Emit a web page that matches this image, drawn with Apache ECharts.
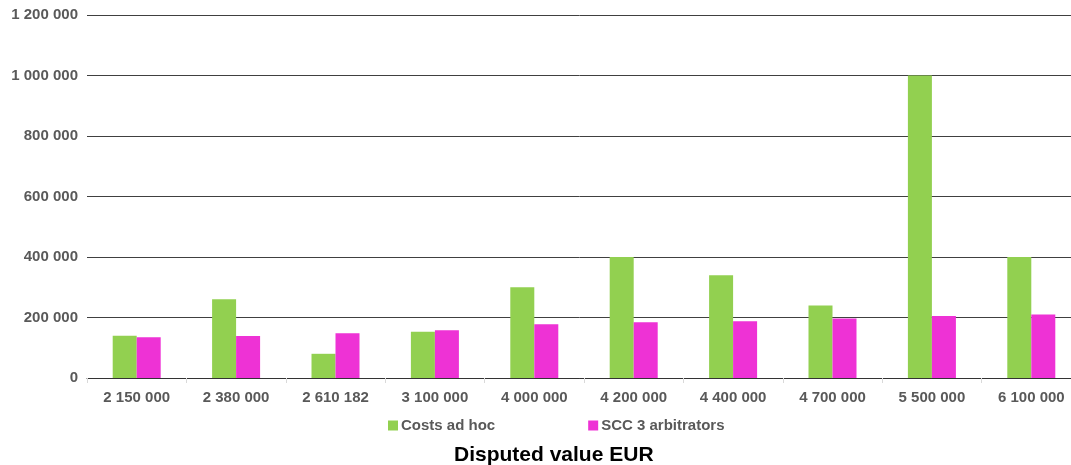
<!DOCTYPE html>
<html>
<head>
<meta charset="utf-8">
<script src="https://cdn.jsdelivr.net/npm/echarts@6/dist/echarts.min.js"></script>
<style>
  html, body { margin: 0; padding: 0; background: #fff; }
  #ec { width: 1071px; height: 465px; }
</style>
</head>
<body>
<div id="ec"></div>
<script>
// disputed values (EUR) on the category axis
var categories = ['2 150 000', '2 380 000', '2 610 182', '3 100 000', '4 000 000',
                  '4 200 000', '4 400 000', '4 700 000', '5 500 000', '6 100 000'];
var costsAdHoc = [140000, 260000, 80000, 153000, 300000, 400000, 340000, 240000, 1000000, 400000];
var scc3Arbitrators = [135000, 139000, 148000, 158000, 178000, 184000, 188000, 197000, 205000, 210000];
var yTicks = [0, 200000, 400000, 600000, 800000, 1000000, 1200000];

function spaced(v) {
    return String(v).replace(/\B(?=(\d{3})+(?!\d))/g, ' ');
}

var myChart = echarts.init(document.getElementById('ec'));

var labelFont = {
    fontFamily: '"Liberation Sans", Arial, sans-serif',
    fontWeight: 'bold',
    fontSize: 15,
    color: '#595959'
};

var option = {
    animation: false,
    title: {
        text: 'Disputed value EUR',
        left: 449,
        top: 440,
        textStyle: {
            fontFamily: '"Liberation Sans", Arial, sans-serif',
            fontWeight: 'bold',
            fontSize: 21,
            color: '#000'
        }
    },
    legend: {
        left: 383,
        top: 413,
        itemWidth: 10,
        itemHeight: 10,
        itemGap: 93,
        icon: 'rect',
        textStyle: Object.assign({ padding: [0, 0, 0, -2] }, labelFont),
        data: ['Costs ad hoc', 'SCC 3 arbitrators']
    },
    grid: {
        left: 87,
        top: 15,
        width: 994,
        height: 363,
        outerBoundsMode: 'none'
    },
    xAxis: {
        type: 'category',
        data: categories,
        axisLine: { lineStyle: { color: '#333', width: 1 } },
        axisTick: { show: true, length: 5, lineStyle: { color: '#d9d9d9' } },
        axisLabel: Object.assign({ margin: 12, interval: 0 }, labelFont)
    },
    yAxis: {
        type: 'value',
        min: yTicks[0],
        max: yTicks[yTicks.length - 1],
        interval: yTicks[1] - yTicks[0],
        axisLine: { show: false },
        axisTick: { show: false },
        axisLabel: Object.assign({ margin: 9, formatter: spaced }, labelFont),
        splitLine: { lineStyle: { color: '#404040', width: 1 } }
    },
    series: [
        {
            name: 'Costs ad hoc',
            type: 'bar',
            data: costsAdHoc,
            barWidth: 24,
            barGap: '0%',
            itemStyle: { color: '#92D050' }
        },
        {
            name: 'SCC 3 arbitrators',
            type: 'bar',
            data: scc3Arbitrators,
            barWidth: 24,
            barGap: '0%',
            itemStyle: { color: '#EE32D5' }
        }
    ]
};

myChart.setOption(option);
</script>
</body>
</html>
